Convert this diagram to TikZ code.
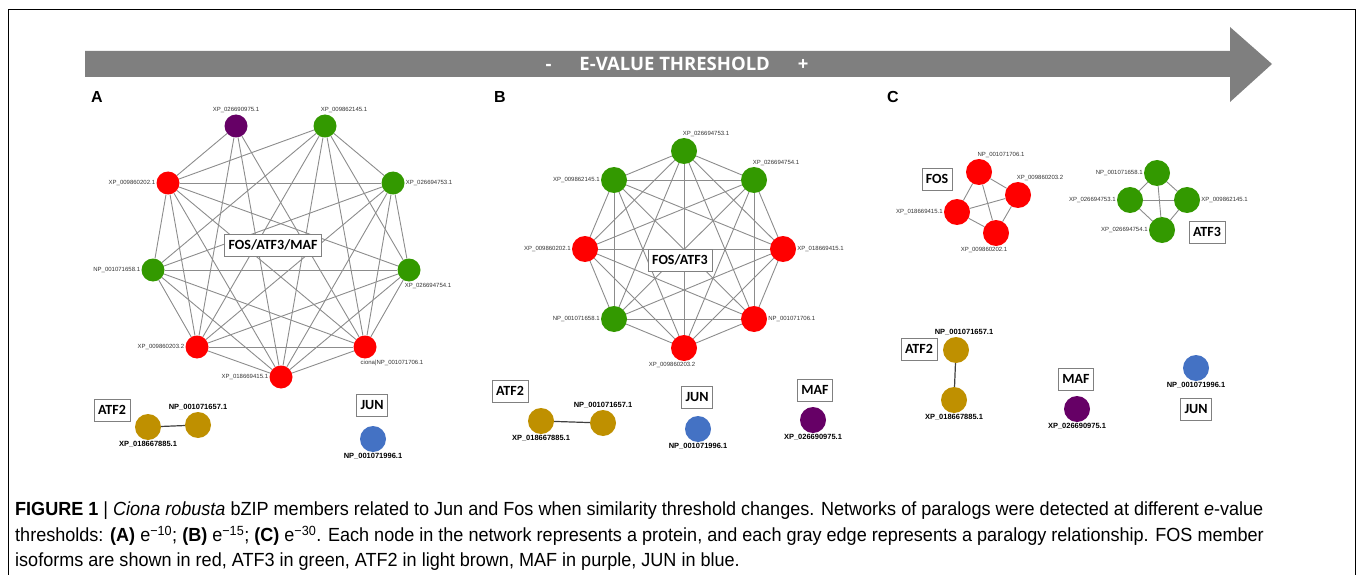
\documentclass[tikz,border=0pt]{standalone}
\usepackage{fontspec}
\setmainfont{Liberation Sans}
\newfontfamily\calfont{Carlito}
\newfontfamily\arrfont{Open Sans}
\newfontfamily\capfont[FakeStretch=0.95]{Liberation Sans}
\usetikzlibrary{backgrounds}

\definecolor{fosred}{RGB}{255,0,0}
\definecolor{atfgreen}{RGB}{51,153,0}
\definecolor{atftwo}{RGB}{191,144,0}
\definecolor{mafpurple}{RGB}{102,0,102}
\definecolor{junblue}{RGB}{68,114,196}
\definecolor{arrowgray}{RGB}{127,127,127}
\definecolor{edgegray}{RGB}{140,140,140}

\tikzset{
  prot/.style={circle, minimum size=26pt, inner sep=0pt},
  fos/.style={prot, fill=fosred},
  atfthree/.style={prot, fill=atfgreen},
  atftwo/.style={prot, fill=atftwo},
  maf/.style={prot, fill=mafpurple},
  jun/.style={prot, fill=junblue},
  lbl/.style={font=\fontsize{6}{6}\selectfont, inner sep=1pt, text=black!80},
  blbl/.style={font=\fontsize{7.5}{7.5}\selectfont\bfseries, inner sep=1pt},
  famname/.style={draw=gray, fill=white, font=\calfont\bfseries\fontsize{14}{14}\selectfont,
    inner xsep=4pt, minimum height=22pt},
  edge/.style={draw=edgegray, line width=0.9pt},
  pairedge/.style={draw=black!75, line width=1.2pt},
  panel/.style={font=\bfseries\fontsize{16}{16}\selectfont, inner sep=0pt}
}

\begin{document}
\begin{tikzpicture}[x=1pt, y=-1pt]
  \useasboundingbox (0,0) rectangle (1358,575);
  \draw[line width=1pt] (8,590) -- (8,10) -- (1355,10) -- (1355,590);

  % threshold arrow
  \fill[arrowgray] (85,51) -- (1230,51) -- (1230,27) -- (1272,64)
    -- (1230,102) -- (1230,77) -- (85,77) -- cycle;
  \node[text=white, font=\arrfont\bfseries\fontsize{18.5}{18.5}\selectfont] (thr) at (677,64)
    {-\hspace{28pt}E-VALUE THRESHOLD\hspace{28pt}+};

  \node[panel] (pA) at (97,97) {A};
  \node[panel] (pB) at (500,97) {B};
  \node[panel] (pC) at (893,97) {C};

  % --- A: e-10
  \begin{scope}[prot/.append style={minimum size=23pt}]
    \node[maf] (a1) at (236,126) [label={[lbl]above:XP\_026690975.1}] {};
    \node[atfthree] (a2) at (325,126) [label={[lbl,xshift=19pt]above:XP\_009862145.1}] {};
    \node[fos] (a3) at (168,183) [label={[lbl]left:XP\_009860202.1}] {};
    \node[atfthree] (a4) at (393,183) [label={[lbl]right:XP\_026694753.1}] {};
    \node[atfthree] (a5) at (153,270) [label={[lbl]left:NP\_001071658.1}] {};
    \node[atfthree] (a6) at (409,270) [label={[lbl,xshift=19pt]below:XP\_026694754.1}] {};
    \node[fos] (a7) at (197,347) [label={[lbl]left:XP\_009860203.2}] {};
    \node[fos] (a8) at (365,347) [label={[lbl,xshift=27pt]below:ciona|NP\_001071706.1}] {};
    \node[fos] (a9) at (281,377) [label={[lbl]left:XP\_018669415.1}] {};
  \end{scope}
  \node[famname] (famA) at (273,245) {FOS/ATF3/MAF};
  \begin{scope}[on background layer]
    \foreach \u [count=\i] in {a2,a3,a4,a5,a6,a7,a8,a9}
      \foreach \v [count=\j] in {a2,a3,a4,a5,a6,a7,a8,a9}
        {\ifnum\i<\j \draw[edge] (\u) -- (\v);\fi}
    \foreach \v in {a3,a7,a8,a9}
      \draw[edge] (a1) -- (\v);
  \end{scope}

  \node[famname] (atfA) at (112,410) {ATF2};
  \node[atftwo] (a10) at (148,427) [label={[blbl]below:XP\_018667885.1}] {};
  \node[atftwo] (a11) at (198,425) [label={[blbl]above:NP\_001071657.1}] {};
  \draw[pairedge] (a10) -- (a11);
  \node[famname] (junA) at (372,405) {JUN};
  \node[jun] (a12) at (373,439) [label={[blbl]below:NP\_001071996.1}] {};

  % --- B: e-15
  \node[atfthree] (b1) at (684,151) [label={[lbl,xshift=22pt]above:XP\_026694753.1}] {};
  \node[atfthree] (b2) at (614,180) [label={[lbl]left:XP\_009862145.1}] {};
  \node[atfthree] (b3) at (754,180) [label={[lbl,xshift=22pt]above:XP\_026694754.1}] {};
  \node[fos] (b4) at (585,249) [label={[lbl]left:XP\_009860202.1}] {};
  \node[fos] (b5) at (783,249) [label={[lbl]right:XP\_018669415.1}] {};
  \node[atfthree] (b6) at (614,319) [label={[lbl]left:NP\_001071658.1}] {};
  \node[fos] (b7) at (754,319) [label={[lbl]right:NP\_001071706.1}] {};
  \node[fos] (b8) at (684,348) [label={[lbl,xshift=-12pt]below:XP\_009860203.2}] {};
  \node[famname] (famB) at (680,260) {FOS/ATF3};
  \begin{scope}[on background layer]
    \foreach \u [count=\i] in {b1,b2,b3,b4,b5,b6,b7,b8}
      \foreach \v [count=\j] in {b1,b2,b3,b4,b5,b6,b7,b8}
        {\ifnum\i<\j \draw[edge] (\u) -- (\v);\fi}
  \end{scope}

  \node[famname] (atfB) at (510,391) {ATF2};
  \node[atftwo] (b9) at (541,421) [label={[blbl]below:XP\_018667885.1}] {};
  \node[atftwo] (b10) at (603,423) [label={[blbl]above:NP\_001071657.1}] {};
  \draw[pairedge] (b9) -- (b10);
  \node[famname] (junB) at (697,397) {JUN};
  \node[jun] (b11) at (698,429) [label={[blbl]below:NP\_001071996.1}] {};
  \node[famname] (mafB) at (815,390) {MAF};
  \node[maf] (b12) at (813,420) [label={[blbl]below:XP\_026690975.1}] {};

  % --- C: e-30
  \node[famname] (fosC) at (937,179) {FOS};
  \node[fos] (c1) at (979,172) [label={[lbl,xshift=22pt]above:NP\_001071706.1}] {};
  \node[fos] (c2) at (1018,195) [label={[lbl,xshift=22pt]above:XP\_009860203.2}] {};
  \node[fos] (c3) at (957,212) [label={[lbl]left:XP\_018669415.1}] {};
  \node[fos] (c4) at (996,233) [label={[lbl,xshift=-12pt]below:XP\_009860202.1}] {};
  \node[atfthree] (c5) at (1157,173) [label={[lbl]left:NP\_001071658.1}] {};
  \node[atfthree] (c6) at (1130,200) [label={[lbl]left:XP\_026694753.1}] {};
  \node[atfthree] (c7) at (1187,200) [label={[lbl]right:XP\_009862145.1}] {};
  \node[atfthree] (c8) at (1162,230) [label={[lbl]left:XP\_026694754.1}] {};
  \node[famname] (atf3C) at (1207,232) {ATF3};
  \begin{scope}[on background layer]
    \foreach \u [count=\i] in {c1,c2,c3,c4}
      \foreach \v [count=\j] in {c1,c2,c3,c4}
        {\ifnum\i<\j \draw[edge] (\u) -- (\v);\fi}
    \foreach \u [count=\i] in {c5,c6,c7,c8}
      \foreach \v [count=\j] in {c5,c6,c7,c8}
        {\ifnum\i<\j \draw[edge] (\u) -- (\v);\fi}
  \end{scope}

  \node[famname] (atfC) at (919,349) {ATF2};
  \node[atftwo] (c9) at (956,350) [label={[blbl,xshift=8pt]above:NP\_001071657.1}] {};
  \node[atftwo] (c10) at (954,400) [label={[blbl]below:XP\_018667885.1}] {};
  \draw[pairedge] (c9) -- (c10);
  \node[famname] (mafC) at (1076,379) {MAF};
  \node[maf] (c11) at (1077,409) [label={[blbl]below:XP\_026690975.1}] {};
  \node[jun] (c12) at (1196,368) [label={[blbl]below:NP\_001071996.1}] {};
  \node[famname] (junC) at (1196,409) {JUN};

  % caption
  \node[anchor=north west, align=left, inner sep=0pt,
    font=\capfont\fontsize{19}{25.5}\selectfont] (cap) at (15,502)
    {\textbf{FIGURE 1} | \textit{Ciona robusta} bZIP members related to Jun and Fos when similarity threshold changes. Networks of paralogs were detected at different \textit{e}-value\\
     thresholds: \textbf{(A)} e\textsuperscript{\char"2212 10}; \textbf{(B)} e\textsuperscript{\char"2212 15}; \textbf{(C)} e\textsuperscript{\char"2212 30}. Each node in the network represents a protein, and each gray edge represents a paralogy relationship. FOS member\\
     isoforms are shown in red, ATF3 in green, ATF2 in light brown, MAF in purple, JUN in blue.};
\end{tikzpicture}
\end{document}
